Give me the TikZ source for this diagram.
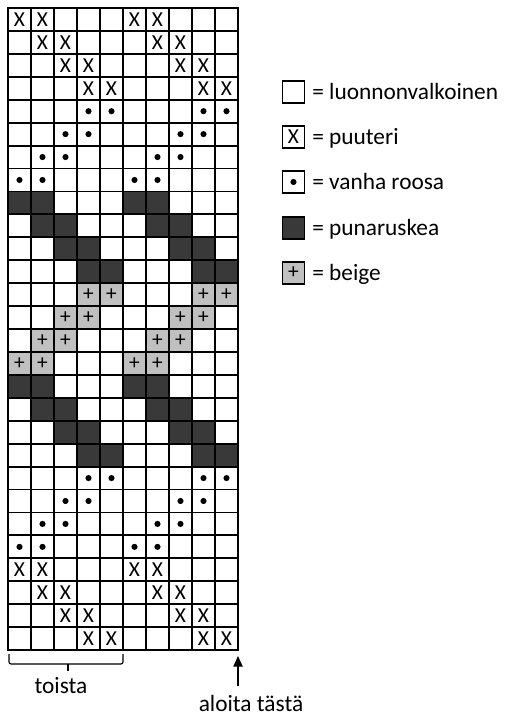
\documentclass[tikz,border=0pt]{standalone}
\usepackage{fontspec}
\setmainfont{Carlito}
\usetikzlibrary{arrows.meta}
\definecolor{darkc}{RGB}{58,57,57}
\definecolor{beigec}{RGB}{192,192,192}
\def\symO{}
\def\symX{X}
\def\symP{+}
\def\symD{}
\def\symB{}
\begin{document}
\begin{tikzpicture}[x=0.75pt,y=-0.75pt,
  cell/.style={rectangle, draw=black, line width=1.4pt, minimum width=17.25pt,
    minimum height=17.2pt, inner sep=0pt, fill=white,
    font=\fontsize{16}{16}\selectfont},
  sO/.style={}, sX/.style={},
  sP/.style={fill=beigec},
  sD/.style={fill=darkc},
  sB/.style={path picture={\fill[black] (path picture bounding box.center) circle (2.3pt);}},
  lab/.style={inner sep=0pt, font=\fontsize{17.5}{20}\selectfont},
  legbox/.style={minimum width=16.5pt, minimum height=16.5pt}]
\useasboundingbox (0,0) rectangle (504,717);
\fill[white] (0,0) rectangle (504,717);
\foreach [count=\r] \row in {
 {X,X,O,O,O,X,X,O,O,O},
 {O,X,X,O,O,O,X,X,O,O},
 {O,O,X,X,O,O,O,X,X,O},
 {O,O,O,X,X,O,O,O,X,X},
 {O,O,O,B,B,O,O,O,B,B},
 {O,O,B,B,O,O,O,B,B,O},
 {O,B,B,O,O,O,B,B,O,O},
 {B,B,O,O,O,B,B,O,O,O},
 {D,D,O,O,O,D,D,O,O,O},
 {O,D,D,O,O,O,D,D,O,O},
 {O,O,D,D,O,O,O,D,D,O},
 {O,O,O,D,D,O,O,O,D,D},
 {O,O,O,P,P,O,O,O,P,P},
 {O,O,P,P,O,O,O,P,P,O},
 {O,P,P,O,O,O,P,P,O,O},
 {P,P,O,O,O,P,P,O,O,O},
 {D,D,O,O,O,D,D,O,O,O},
 {O,D,D,O,O,O,D,D,O,O},
 {O,O,D,D,O,O,O,D,D,O},
 {O,O,O,D,D,O,O,O,D,D},
 {O,O,O,B,B,O,O,O,B,B},
 {O,O,B,B,O,O,O,B,B,O},
 {O,B,B,O,O,O,B,B,O,O},
 {B,B,O,O,O,B,B,O,O,O},
 {X,X,O,O,O,X,X,O,O,O},
 {O,X,X,O,O,O,X,X,O,O},
 {O,O,X,X,O,O,O,X,X,O},
 {O,O,O,X,X,O,O,O,X,X}} {
  \foreach [count=\c] \s in \row {
    \node[cell, s\s] (n\r-\c) at ({8+23*(\c-0.5)}, {8+22.93*(\r-0.5)}) {\csname sym\s\endcsname};
  }
}
% legend
\foreach [count=\i] \s/\t/\yy in {O/luonnonvalkoinen/92, X/puuteri/137, B/vanha roosa/182, D/punaruskea/228, P/beige/273} {
  \node[cell, s\s, legbox] (leg\i) at (293.5,\yy) {\csname sym\s\endcsname};
  \node[lab, anchor=base west] (legt\i) at (312,{\yy+7}) {= \t};
}
% brace
\coordinate (bl) at (9,654);
\coordinate (br) at (123,654);
\coordinate (bm) at (68,664);
\coordinate (bt) at (68,671);
\draw[line width=0.8pt, rounded corners=1.5pt] (bl) -- (9,664) -- (123,664) -- (br);
\draw[line width=0.8pt] (bm) -- (bt);
\node[lab, anchor=base] (toista) at (61,693) {toista};
% arrow
\coordinate (atail) at (238,686);
\coordinate (atip) at (238,656);
\draw[line width=0.9pt, -{Triangle[length=8pt,width=7pt]}] (atail) -- (atip);
\node[lab, anchor=base] (aloita) at (251,711) {aloita tästä};
\end{tikzpicture}
\end{document}
